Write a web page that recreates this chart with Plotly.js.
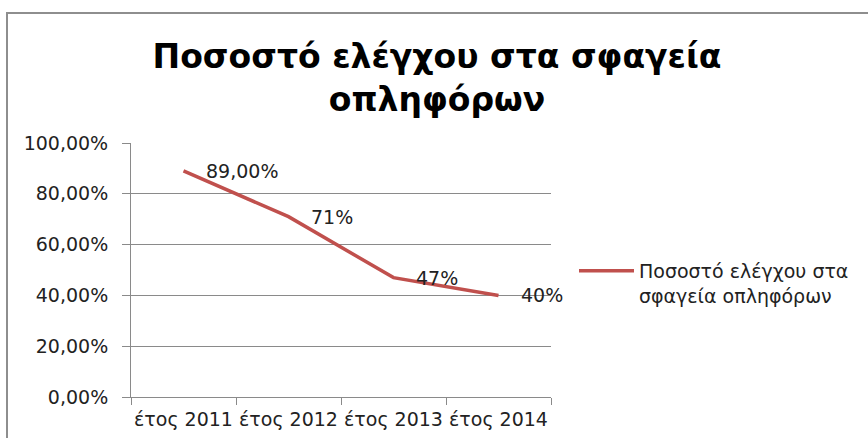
<!DOCTYPE html>
<html>
<head>
<meta charset="utf-8">
<script src="https://cdn.plot.ly/plotly-3.0.1.min.js"></script>
<style>
  html, body { margin: 0; padding: 0; background: #ffffff; overflow: hidden; }
  #frame { position: absolute; left: 6px; top: 12px; width: 1000px; height: 1000px;
           border-left: 2px solid #8e8e8e; border-top: 2px solid #8e8e8e; }
  #chart { position: absolute; left: 0; top: 0; width: 868px; height: 438px; }
</style>
</head>
<body>
<div id="frame"></div>
<div id="chart"></div>
<script>
// ---- data ----
const categories = ['έτος 2011', 'έτος 2012', 'έτος 2013', 'έτος 2014'];
const values = [0.89, 0.71, 0.47, 0.40];
const pointLabels = ['89,00%', '71%', '47%', '40%'];
const seriesName = 'Ποσοστό ελέγχου στα<br>σφαγεία οπληφόρων';
const titleText = 'Ποσοστό ελέγχου στα σφαγεία<br>οπληφόρων';
const yTickValues = [0, 0.2, 0.4, 0.6, 0.8, 1.0];

const textFont = { family: 'DejaVu Sans, sans-serif', size: 19, color: '#222222' };
const gridColor = '#8a8a8a';

const trace = {
  type: 'scatter',
  mode: 'lines',
  x: categories,
  y: values,
  name: seriesName,
  line: { color: '#C0504D', width: 3.5 },
  hoverinfo: 'skip',
  showlegend: true
};

const annotations = categories.map((c, i) => ({
  x: c, y: values[i], xref: 'x', yref: 'y',
  text: pointLabels[i], showarrow: false,
  xanchor: 'left', yanchor: 'middle', xshift: 20,
  font: textFont
}));

const layout = {
  width: 868, height: 438,
  paper_bgcolor: 'rgba(0,0,0,0)',
  plot_bgcolor: 'rgba(0,0,0,0)',
  separators: ',.',
  margin: { l: 131, r: 317, t: 143, b: 41, pad: 0 },
  title: {
    text: titleText,
    font: { family: 'DejaVu Sans, sans-serif', size: 33, color: '#000000', weight: 'bold' },
    xref: 'container', x: 437 / 868, xanchor: 'center',
    yref: 'container', y: 1 - 68 / 438, yanchor: 'top'
  },
  xaxis: {
    type: 'category',
    categoryorder: 'array', categoryarray: categories,
    range: [-0.5, categories.length - 0.5],
    tickson: 'boundaries',
    ticks: 'outside', ticklen: 7, tickcolor: gridColor, tickwidth: 1,
    tickangle: 0,
    ticklabelstandoff: 5,
    showline: true, linecolor: gridColor, linewidth: 1,
    showgrid: false, zeroline: false,
    tickfont: { family: 'DejaVu Sans, sans-serif', size: 19, color: '#222222' },
    fixedrange: true
  },
  yaxis: {
    range: [0, 1],
    tickvals: yTickValues,
    tickformat: '.2%',
    ticks: 'outside', ticklen: 8, tickcolor: gridColor, tickwidth: 1,
    ticklabelstandoff: 10,
    showline: true, linecolor: gridColor, linewidth: 1,
    showgrid: true, gridcolor: gridColor, gridwidth: 1,
    zeroline: false,
    tickfont: textFont,
    fixedrange: true
  },
  showlegend: true,
  legend: {
    x: (574 - 131) / 420, xanchor: 'left',
    y: (397 - 252) / 254, yanchor: 'top',
    valign: 'top',
    itemwidth: 55,
    font: textFont,
    bgcolor: 'rgba(0,0,0,0)',
    borderwidth: 0,
    tracegroupgap: 0
  },
  annotations: annotations
};

Plotly.newPlot('chart', [trace], layout, { displayModeBar: false, staticPlot: true });
</script>
</body>
</html>
